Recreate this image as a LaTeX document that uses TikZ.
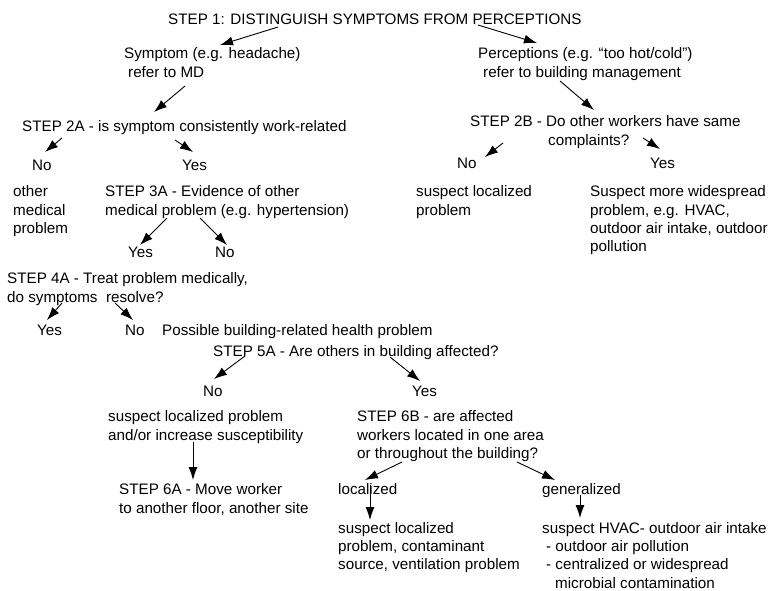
\documentclass[tikz,border=0pt]{standalone}
\usepackage{fontspec}
\setmainfont{Liberation Sans}
\usetikzlibrary{arrows.meta}
\tikzstyle{txt} = [anchor=north west, inner sep=0pt, align=left,
      font=\fontsize{15.2}{18.3}\selectfont]
\tikzstyle{line} = [draw, line width=0.9pt, -{Latex[length=13pt,width=9pt]}]

\begin{document}
\begin{tikzpicture}[x=1pt, y=-1pt]
	  \useasboundingbox (0,0) rectangle (771,590);
	  % Nodes
	  \node [txt] (step1) at (168,13.5) {STEP 1: DISTINGUISH SYMPTOMS FROM PERCEPTIONS};
	  \node [txt] (sym) at (124,47.5) {Symptom (e.g. headache)\\\hspace*{4pt}refer to MD};
	  \node [txt] (perc) at (478,47.5) {Perceptions (e.g. “too hot/cold”)\\\hspace*{5pt}refer to building management};
	  \node [txt] (s2a) at (22,120.5) {STEP 2A - is symptom consistently work-related};
	  \node [txt] (s2b) at (470,115.5) {STEP 2B - Do other workers have same\\\hspace*{78pt}complaints?};
	  \node [txt] (no2a) at (32,159.5) {No};
	  \node [txt] (yes2a) at (182,159.5) {Yes};
	  \node [txt] (no2b) at (457,157.5) {No};
	  \node [txt] (yes2b) at (650,157.5) {Yes};
	  \node [txt] (med) at (13,185.5) {other\\medical\\problem};
	  \node [txt] (s3a) at (105,185.5) {STEP 3A - Evidence of other\\medical problem (e.g. hypertension)};
	  \node [txt] (loc2b) at (416,185.5) {suspect localized\\problem};
	  \node [txt] (wide) at (590,185.5) {Suspect more widespread\\problem, e.g. HVAC,\\outdoor air intake, outdoor\\pollution};
	  \node [txt] (yes3a) at (128,246.5) {Yes};
	  \node [txt] (no3a) at (215,246.5) {No};
	  \node [txt] (s4a) at (7,272.5) {STEP 4A - Treat problem medically,\\do symptoms\ \ resolve?};
	  \node [txt] (yes4a) at (37,324.5) {Yes};
	  \node [txt] (no4a) at (125,324.5) {No};
	  \node [txt] (poss) at (162,324.5) {Possible building-related health problem};
	  \node [txt] (s5a) at (213,345.5) {STEP 5A - Are others in building affected?};
	  \node [txt] (no5a) at (203,385.5) {No};
	  \node [txt] (yes5a) at (412,385.5) {Yes};
	  \node [txt] (loc5a) at (108,410.5) {suspect localized problem\\and/or increase susceptibility};
	  \node [txt] (s6b) at (357,410.5) {STEP 6B - are affected\\workers located in one area\\or throughout the building?};
	  \node [txt] (s6a) at (119,483.5) {STEP 6A - Move worker\\to another floor, another site};
	  \node [txt] (locd) at (338,483.5) {localized};
	  \node [txt] (gen) at (542,483.5) {generalized};
	  \node [txt] (locsrc) at (338,522) {suspect localized\\problem, contaminant\\source, ventilation problem};
	  \node [txt] (hvac) at (542,522) {suspect HVAC- outdoor air intake\\\hspace*{4pt}- outdoor air pollution\\\hspace*{4pt}- centralized or widespread\\\hspace*{13pt}microbial contamination};
	  % Step 1 and 2
	  \path [line] ([shift={(110,13.5)}]step1.north west) -- ([shift={(96,-2.5)}]sym.north west);
	  \path [line] ([shift={(310,11.5)}]step1.north west) -- ([shift={(59,-4.5)}]perc.north west);
	  \path [line] ([shift={(61,38.5)}]sym.north west) -- ([shift={(132,-8.5)}]s2a.north west);
	  \path [line] ([shift={(82,33.5)}]perc.north west) -- ([shift={(124,-5.5)}]s2b.north west);
	  \path [line] ([shift={(40,17.5)}]s2a.north west) -- ([shift={(13,-7.5)}]no2a.north west);
	  \path [line] ([shift={(153,19.5)}]s2a.north west) -- ([shift={(11,-7.5)}]yes2a.north west);
	  \path [line] ([shift={(33,27.5)}]s2b.north west) -- ([shift={(28,-0.5)}]no2b.north west);
	  \path [line] ([shift={(173,22.5)}]s2b.north west) -- ([shift={(10,-8.5)}]yes2b.north west);
	  % Step 3 and 4
	  \path [line] ([shift={(62,32.5)}]s3a.north west) -- ([shift={(12,-1.5)}]yes3a.north west);
	  \path [line] ([shift={(95,32.5)}]s3a.north west) -- ([shift={(12,-1.5)}]no3a.north west);
	  \path [line] ([shift={(55,30.5)}]s4a.north west) -- ([shift={(10,-4.5)}]yes4a.north west);
	  \path [line] ([shift={(108,30.5)}]s4a.north west) -- ([shift={(8,-4.5)}]no4a.north west);
	  % Step 5 and 6
	  \path [line] ([shift={(32,10.5)}]s5a.north west) -- ([shift={(11,-6.5)}]no5a.north west);
	  \path [line] ([shift={(177,11.5)}]s5a.north west) -- ([shift={(8,-4.5)}]yes5a.north west);
	  \path [line] ([shift={(85,31.5)}]loc5a.north west) -- ([shift={(74,-3.5)}]s6a.north west);
	  \path [line] ([shift={(45,51.5)}]s6b.north west) -- ([shift={(27,-3.5)}]locd.north west);
	  \path [line] ([shift={(160,51.5)}]s6b.north west) -- ([shift={(13,-3.5)}]gen.north west);
	  \path [line] ([shift={(32,1.5)}]locd.north west) -- ([shift={(32,-2)}]locsrc.north west);
	  \path [line] ([shift={(38,11.5)}]gen.north west) -- ([shift={(38,-4)}]hvac.north west);
\end{tikzpicture}
\end{document}
